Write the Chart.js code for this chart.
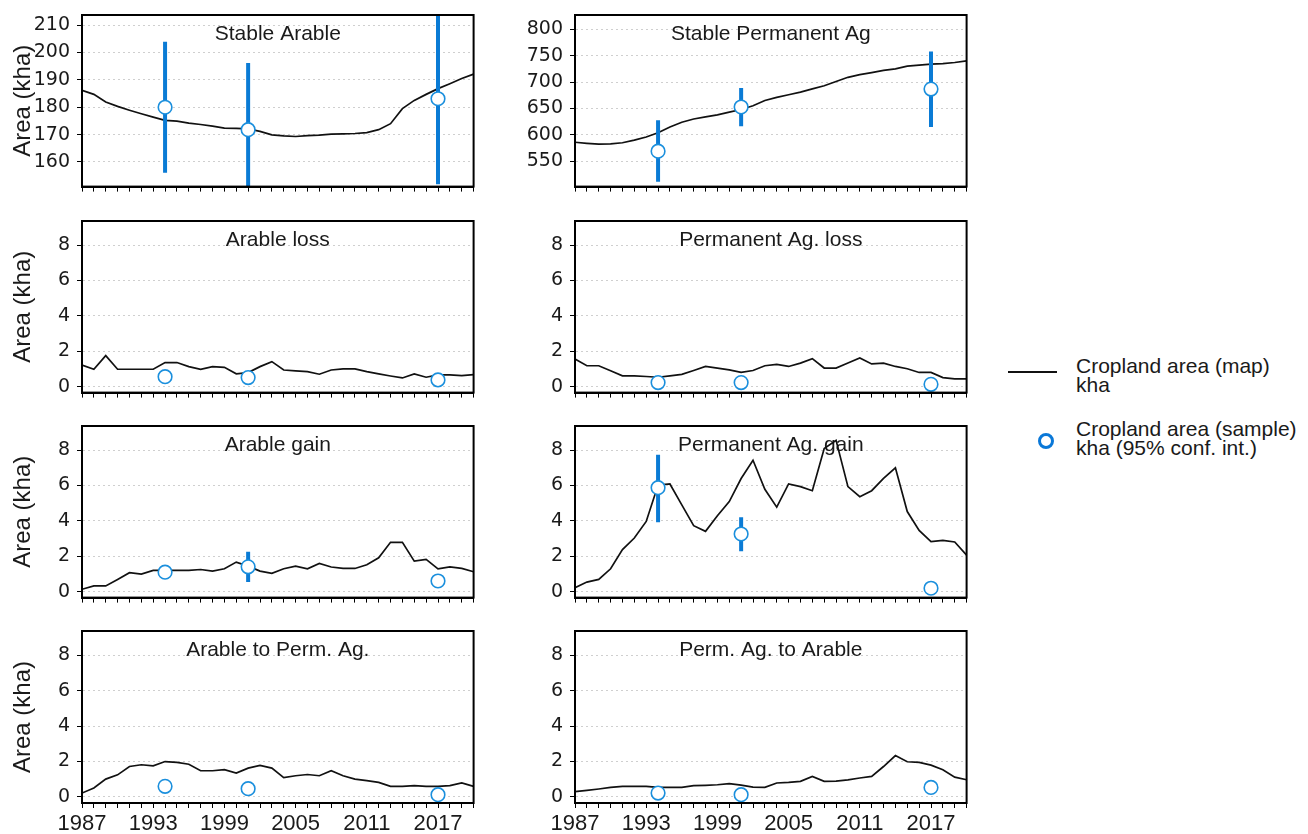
<!DOCTYPE html>
<html>
<head>
<meta charset="utf-8">
<title>Cropland area panels</title>
<script src="https://cdn.jsdelivr.net/npm/chart.js@4.4.0/dist/chart.umd.min.js"></script>
<style>
  html, body { margin: 0; padding: 0; background: #fff; overflow: hidden; }
  body { width: 1308px; height: 834px; position: relative; font-family: "Liberation Sans", Arial, sans-serif; color: #1a1a1a; }
  canvas.panel { position: absolute; }
  .legend-text { position: absolute; left: 1076px; font-size: 21px; line-height: 19px; white-space: nowrap; }
  .key-line { position: absolute; left: 1008px; top: 371px; width: 49px; border-top: 2px solid #111; }
  .key-dot { position: absolute; left: 1038px; top: 433px; width: 10px; height: 10px; border: 3px solid #0a78d8; border-radius: 50%; }
</style>
</head>
<body>
<canvas class="panel" id="p0"></canvas>
<canvas class="panel" id="p1"></canvas>
<canvas class="panel" id="p2"></canvas>
<canvas class="panel" id="p3"></canvas>
<canvas class="panel" id="p4"></canvas>
<canvas class="panel" id="p5"></canvas>
<canvas class="panel" id="p6"></canvas>
<canvas class="panel" id="p7"></canvas>

<div class="key-line"></div>
<div class="legend-text" style="top:356px">Cropland area (map)<br>kha</div>
<div class="key-dot"></div>
<div class="legend-text" style="top:419px">Cropland area (sample)<br>kha (95% conf. int.)</div>

<script>
// Years of the map series
const years = [1987, 1988, 1989, 1990, 1991, 1992, 1993, 1994, 1995, 1996, 1997, 1998,
  1999, 2000, 2001, 2002, 2003, 2004, 2005, 2006, 2007, 2008, 2009, 2010, 2011, 2012,
  2013, 2014, 2015, 2016, 2017, 2018, 2019, 2020];
// Years of the sample estimates
const sampleYears = [1994, 2001, 2017];

// Map series (kha)
const stableArableMap = [186.2, 184.7, 181.9, 180.3, 178.9, 177.6, 176.4, 175.2, 174.9, 174.2,
  173.7, 173.1, 172.4, 172.3, 172.1, 171.2, 169.9, 169.5, 169.3, 169.6, 169.8, 170.2, 170.3,
  170.4, 170.7, 171.8, 174.0, 179.5, 182.5, 184.7, 186.8, 188.6, 190.5, 192.1];
const stablePermMap = [586, 584, 582.4, 583, 585, 590, 596, 604, 615, 624, 630, 634, 638, 643,
  648, 655, 665, 671, 676, 681, 687, 693, 701, 709, 714, 718, 722, 725, 730, 732, 734, 735, 737, 740];
const arableLossMap = [1.22, 0.98, 1.75, 0.98, 0.98, 0.98, 0.98, 1.36, 1.36, 1.13, 0.98, 1.13,
  1.09, 0.72, 0.79, 1.13, 1.41, 0.94, 0.89, 0.85, 0.70, 0.94, 1.0, 1.0, 0.85, 0.72, 0.60, 0.49,
  0.72, 0.53, 0.66, 0.66, 0.62, 0.68];
const permLossMap = [1.56, 1.18, 1.18, 0.9, 0.61, 0.61, 0.57, 0.53, 0.61, 0.69, 0.91, 1.14, 1.05,
  0.95, 0.8, 0.91, 1.18, 1.26, 1.14, 1.33, 1.58, 1.05, 1.05, 1.33, 1.62, 1.28, 1.33, 1.14, 1.01,
  0.8, 0.8, 0.51, 0.44, 0.44];
const arableGainMap = [0.13, 0.32, 0.32, 0.69, 1.07, 0.99, 1.2, 1.2, 1.2, 1.2, 1.25, 1.16, 1.29,
  1.67, 1.44, 1.16, 1.03, 1.29, 1.44, 1.29, 1.59, 1.39, 1.31, 1.31, 1.52, 1.91, 2.79, 2.79, 1.72,
  1.82, 1.29, 1.40, 1.31, 1.12];
const permGainMap = [0.22, 0.54, 0.69, 1.29, 2.38, 3.03, 3.97, 6.03, 6.09, 4.91, 3.73, 3.41, 4.29,
  5.09, 6.40, 7.43, 5.79, 4.78, 6.09, 5.94, 5.71, 8.09, 8.56, 5.94, 5.37, 5.71, 6.40, 7.0, 4.53,
  3.46, 2.83, 2.9, 2.81, 2.06];
const arableToPermMap = [0.22, 0.51, 1.01, 1.25, 1.72, 1.82, 1.76, 2.0, 1.95, 1.85, 1.48, 1.48,
  1.54, 1.35, 1.63, 1.78, 1.63, 1.09, 1.2, 1.27, 1.2, 1.48, 1.2, 1.01, 0.92, 0.82, 0.6, 0.6, 0.64,
  0.6, 0.6, 0.64, 0.79, 0.6];
const permToArableMap = [0.3, 0.37, 0.45, 0.54, 0.6, 0.6, 0.6, 0.54, 0.54, 0.54, 0.64, 0.66, 0.69,
  0.75, 0.67, 0.56, 0.54, 0.79, 0.82, 0.88, 1.16, 0.88, 0.9, 0.97, 1.07, 1.16, 1.72, 2.34, 1.99,
  1.95, 1.8, 1.54, 1.12, 0.97];

// Sample estimates with 95% confidence interval (null = no bar drawn)
const stableArableSample = [180, 171.8, 183.1];
const stableArableLow = [156.1, 147.4, 151.9];
const stableArableHigh = [203.9, 196.2, 214.5];
const stablePermSample = [569, 652.8, 686.8];
const stablePermLow = [511.3, 616.3, 615];
const stablePermHigh = [627.7, 688.7, 757.9];
const arableLossSample = [0.56, 0.51, 0.38];
const permLossSample = [0.23, 0.23, 0.13];
const arableGainSample = [1.1, 1.4, 0.6];
const arableGainLow = [null, 0.54, null];
const arableGainHigh = [null, 2.25, null];
const permGainSample = [5.88, 3.26, 0.19];
const permGainLow = [3.93, 2.28, null];
const permGainHigh = [7.75, 4.21, null];
const arableToPermSample = [0.6, 0.47, 0.13];
const permToArableSample = [0.22, 0.13, 0.54];

const none = [null, null, null];

// Panels in reading order (left column, right column)
const panels = [
  { title: 'Stable Arable', map: stableArableMap, sample: stableArableSample, low: stableArableLow, high: stableArableHigh, yMin: 151, yMax: 213.7, yStep: 10 },
  { title: 'Stable Permanent Ag', map: stablePermMap, sample: stablePermSample, low: stablePermLow, high: stablePermHigh, yMin: 502, yMax: 827, yStep: 50 },
  { title: 'Arable loss', map: arableLossMap, sample: arableLossSample, low: none, high: none, yMin: -0.34, yMax: 9.37, yStep: 2 },
  { title: 'Permanent Ag. loss', map: permLossMap, sample: permLossSample, low: none, high: none, yMin: -0.34, yMax: 9.37, yStep: 2 },
  { title: 'Arable gain', map: arableGainMap, sample: arableGainSample, low: arableGainLow, high: arableGainHigh, yMin: -0.34, yMax: 9.37, yStep: 2 },
  { title: 'Permanent Ag. gain', map: permGainMap, sample: permGainSample, low: permGainLow, high: permGainHigh, yMin: -0.34, yMax: 9.37, yStep: 2 },
  { title: 'Arable to Perm. Ag.', map: arableToPermMap, sample: arableToPermSample, low: none, high: none, yMin: -0.34, yMax: 9.37, yStep: 2 },
  { title: 'Perm. Ag. to Arable', map: permToArableMap, sample: permToArableSample, low: none, high: none, yMin: -0.34, yMax: 9.37, yStep: 2 }
];

Chart.defaults.font.family = '"Liberation Sans", Arial, sans-serif';
Chart.defaults.color = '#1a1a1a';

const BLUE_BAR = '#0a7bd5';
const BLUE_DOT = '#1a8fdd';

// panel title inside the box + black frame around the plot area
const panelDecor = {
  id: 'panelDecor',
  beforeDatasetsDraw(chart, args, opts) {
    const { ctx, chartArea: a } = chart;
    ctx.save();
    ctx.font = '21px "Liberation Sans", Arial, sans-serif';
    ctx.fillStyle = '#1a1a1a';
    ctx.textAlign = 'center';
    ctx.textBaseline = 'middle';
    ctx.fillText(opts.title, (a.left + a.right) / 2, a.top + 19);
    ctx.restore();
  },
  afterDraw(chart) {
    const { ctx, chartArea: a } = chart;
    ctx.save();
    ctx.strokeStyle = '#000';
    ctx.lineWidth = 2;
    ctx.strokeRect(a.left, a.top, a.right - a.left, a.bottom - a.top);
    ctx.restore();
  }
};

const PLOT_H = 172;
const PAD_TOP = 12;
const rowTops = [15, 221, 426, 631];

function makePanel(idx) {
  const p = panels[idx];
  const col = idx % 2;
  const row = Math.floor(idx / 2);
  const isBottom = row === 3;
  const yAxisW = col === 0 ? 82 : 75;
  const xAxisH = isBottom ? 34 : 8;

  const canvas = document.getElementById('p' + idx);
  canvas.width = col === 0 ? 482 : 475;
  canvas.height = PAD_TOP + PLOT_H + xAxisH;
  canvas.style.left = (col === 0 ? 0 : 500) + 'px';
  canvas.style.top = (rowTops[row] - PAD_TOP) + 'px';

  const lineData = years.map((y, i) => ({ x: y, y: p.map[i] }));
  const dotData = sampleYears.map((y, i) => ({ x: y, y: p.sample[i] }));
  const barData = [];
  sampleYears.forEach((y, i) => {
    if (p.low[i] == null) return;
    barData.push({ x: y, y: p.low[i] }, { x: y, y: p.high[i] }, { x: y, y: null });
  });

  new Chart(canvas, {
    type: 'line',
    data: {
      datasets: [
        {
          label: 'Cropland area (sample)',
          data: dotData,
          showLine: false,
          pointRadius: 6.8,
          pointBackgroundColor: '#fff',
          pointBorderColor: BLUE_DOT,
          pointBorderWidth: 1.6,
          clip: false
        },
        {
          label: '95% conf. int.',
          data: barData,
          borderColor: BLUE_BAR,
          borderWidth: 4,
          borderCapStyle: 'butt',
          pointRadius: 0,
          spanGaps: false,
          clip: 0
        },
        {
          label: 'Cropland area (map)',
          data: lineData,
          borderColor: '#111',
          borderWidth: 1.7,
          pointRadius: 0,
          tension: 0
        }
      ]
    },
    options: {
      responsive: false,
      animation: false,
      events: [],
      layout: { padding: { top: PAD_TOP, right: 6, left: 0, bottom: 0 } },
      plugins: {
        legend: { display: false },
        tooltip: { enabled: false },
        panelDecor: { title: p.title }
      },
      scales: {
        x: {
          type: 'linear',
          min: 1987,
          max: 2020,
          ticks: {
            stepSize: 1,
            autoSkip: false,
            maxRotation: 0,
            padding: 3,
            font: { size: 22 },
            callback: v => (isBottom && (Math.round(v) - 1987) % 6 === 0) ? String(Math.round(v)) : ''
          },
          grid: { drawOnChartArea: false, drawTicks: true, tickLength: 5, tickColor: '#000', tickWidth: 1 },
          border: { display: true, color: '#000', width: 2 },
          afterFit: s => { s.height = xAxisH; s.paddingLeft = 0; s.paddingRight = 0; }
        },
        y: {
          min: p.yMin,
          max: p.yMax,
          ticks: {
            stepSize: p.yStep,
            includeBounds: false,
            padding: 7,
            font: { family: '"DejaVu Sans", sans-serif', size: 19 }
          },
          grid: { color: '#cfcfcf', lineWidth: 1, drawTicks: true, tickLength: 5, tickColor: '#000', tickWidth: 1 },
          border: { display: true, color: '#000', width: 2, dash: [2, 3] },
          title: {
            display: col === 0,
            text: 'Area (kha)',
            font: { size: 24 },
            padding: { top: 9, bottom: 0 }
          },
          afterFit: s => { s.width = yAxisW; s.paddingTop = 0; s.paddingBottom = 0; }
        }
      }
    },
    plugins: [panelDecor]
  });
}

panels.forEach((p, i) => makePanel(i));
</script>
</body>
</html>
